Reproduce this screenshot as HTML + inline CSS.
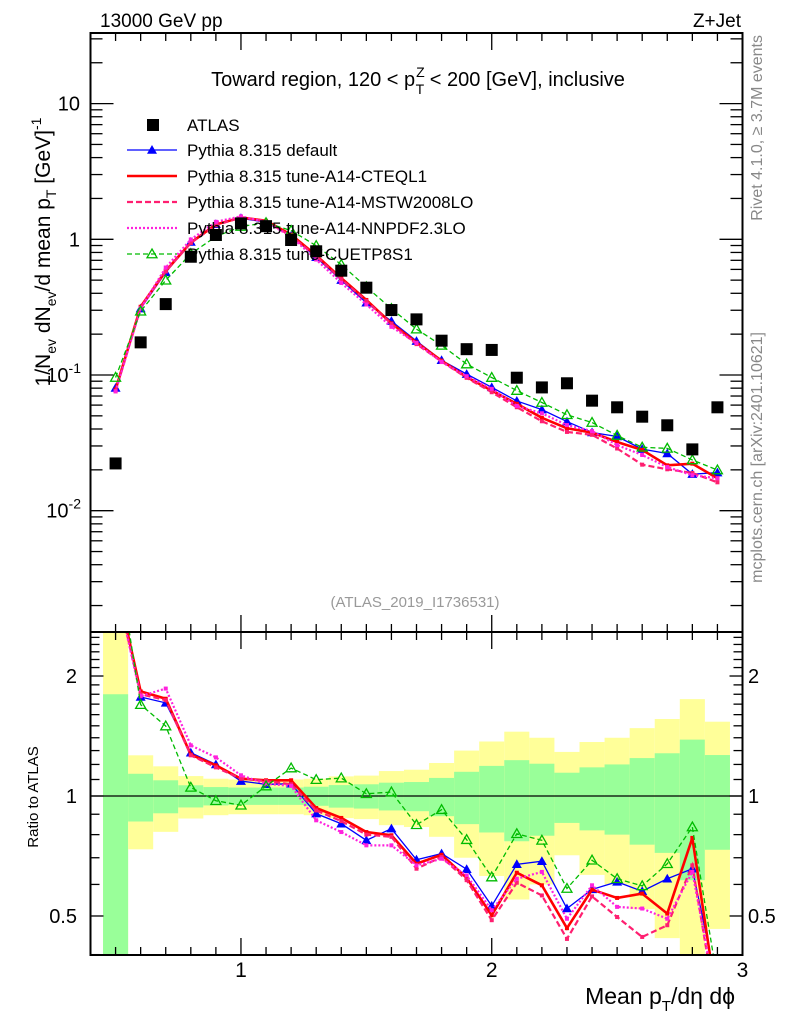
<!DOCTYPE html>
<html><head><meta charset="utf-8"><style>
html,body{margin:0;padding:0;background:#fff;width:786px;height:1024px;overflow:hidden;}
svg{display:block;font-family:"Liberation Sans",sans-serif;}
</style></head><body>
<svg id="chart" width="786" height="1024" viewBox="0 0 786 1024" xmlns="http://www.w3.org/2000/svg">
<defs>
<clipPath id="clipMain"><rect x="90.5" y="33" width="652" height="599"/></clipPath>
<clipPath id="clipRatio"><rect x="90.5" y="632" width="652" height="323"/></clipPath>
</defs>
<rect x="0" y="0" width="786" height="1024" fill="#fff"/>
<g id="bands" clip-path="url(#clipRatio)"></g>
<line x1="90.5" y1="796" x2="742.5" y2="796" stroke="#000" stroke-width="1.2"/>
<g id="mainMarks" clip-path="url(#clipMain)"></g>
<g id="ratioMarks" clip-path="url(#clipRatio)"></g>
<g id="axes"></g>
<rect x="90.5" y="33" width="652" height="599" fill="none" stroke="#000" stroke-width="2"/>
<rect x="90.5" y="632" width="652" height="323" fill="none" stroke="#000" stroke-width="2"/>

<text x="100" y="27" font-size="19">13000 GeV pp</text>
<text x="741" y="27" font-size="19" text-anchor="end">Z+Jet</text>
<text x="418" y="86" font-size="20" text-anchor="middle">Toward region, 120 &lt; p<tspan font-size="14" dx="1" dy="-9">Z</tspan><tspan font-size="14" dx="-9" dy="17">T</tspan><tspan dy="-8"> &lt; 200 [GeV], inclusive</tspan></text>
<text transform="translate(50,252) rotate(-90)" font-size="21" text-anchor="middle">1/N<tspan font-size="14" dy="6">ev</tspan><tspan dy="-6"> dN</tspan><tspan font-size="14" dy="6">ev</tspan><tspan dy="-6">/d mean p</tspan><tspan font-size="14" dy="6">T</tspan><tspan dy="-6"> [GeV]</tspan><tspan font-size="14" dy="-9">-1</tspan></text>
<text transform="translate(38,797) rotate(-90)" font-size="15" text-anchor="middle">Ratio to ATLAS</text>
<text transform="translate(762,35) rotate(-90)" font-size="16" fill="#888" text-anchor="end">Rivet 4.1.0, ≥ 3.7M events</text>
<text transform="translate(762,332) rotate(-90)" font-size="16" fill="#888" text-anchor="end">mcplots.cern.ch [arXiv:2401.10621]</text>
<text x="415" y="607" font-size="15" fill="#999" text-anchor="middle">(ATLAS_2019_I1736531)</text>
<text x="735" y="1004" font-size="23" text-anchor="end">Mean p<tspan font-size="15" dy="7">T</tspan><tspan dy="-7">/dη dϕ</tspan></text>
<g id="legend"></g>

<script>
// ---- data ----
var binCenters = [0.5,0.6,0.7,0.8,0.9,1.0,1.1,1.2,1.3,1.4,1.5,1.6,1.7,1.8,1.9,2.0,2.1,2.2,2.3,2.4,2.5,2.6,2.7,2.8,2.9];
var atlasValues = [0.0223,0.174,0.333,0.744,1.076,1.31,1.25,0.988,0.816,0.587,0.44,0.301,0.257,0.179,0.155,0.153,0.0955,0.081,0.0869,0.0647,0.0578,0.0493,0.0426,0.0283,0.0578];
var statErr = [0.80,0.137,0.095,0.064,0.053,0.05,0.05,0.05,0.055,0.065,0.07,0.08,0.084,0.11,0.15,0.19,0.23,0.205,0.144,0.18,0.20,0.245,0.28,0.385,0.267];
var totalErr = [1.7,0.265,0.187,0.122,0.105,0.10,0.10,0.10,0.105,0.12,0.125,0.155,0.164,0.21,0.30,0.37,0.45,0.40,0.29,0.366,0.40,0.48,0.56,0.75,0.536];
var ratioDefault = [3.6,1.772,1.712,1.284,1.20,1.09,1.07,1.073,0.903,0.852,0.774,0.828,0.692,0.717,0.655,0.530,0.674,0.686,0.522,0.583,0.609,0.577,0.620,0.657,0.33];
var ratioCTEQL1 = [3.5,1.83,1.754,1.27,1.194,1.105,1.095,1.095,0.933,0.881,0.812,0.797,0.676,0.712,0.623,0.502,0.642,0.597,0.466,0.582,0.555,0.569,0.507,0.785,0.30];
var ratioMSTW = [3.4,1.80,1.74,1.265,1.18,1.105,1.09,1.07,0.92,0.865,0.80,0.79,0.657,0.703,0.615,0.488,0.606,0.563,0.438,0.56,0.497,0.443,0.474,0.67,0.28];
var ratioNNPDF = [3.4,1.78,1.86,1.34,1.25,1.127,1.073,1.06,0.869,0.812,0.752,0.752,0.67,0.696,0.632,0.517,0.62,0.645,0.492,0.597,0.527,0.522,0.492,0.645,0.30];
var ratioCUETP = [4.3,1.695,1.498,1.051,0.973,0.948,1.059,1.175,1.099,1.109,1.013,1.023,0.847,0.924,0.777,0.626,0.804,0.774,0.586,0.69,0.62,0.595,0.676,0.836,0.345];
var mainTickLabels = ["10","1","10","10"];
var mainTickExps = ["","","-1","-2"];
var mainTickValues = [10,1,0.1,0.01];
var ratioTickValues = [2,1,0.5];
var ratioTickLabels = ["2","1","0.5"];
var xTickValues = [1,2,3];
var xTickLabels = ["1","2","3"];
var legendLabels = ["ATLAS","Pythia 8.315 default","Pythia 8.315 tune-A14-CTEQL1","Pythia 8.315 tune-A14-MSTW2008LO","Pythia 8.315 tune-A14-NNPDF2.3LO","Pythia 8.315 tune-CUETP8S1"];

// ---- scales ----
var XL=90.5, XR=742.5;
function X(v){return XL+(v-0.4)*(XR-XL)/2.6;}
function Y(v){return 239.3-Math.log10(v)*135.7;}
function R(v){return 796-Math.log10(Math.max(v,1e-3))*398.6;}
var NS="http://www.w3.org/2000/svg";
function mk(tag,attrs,parent){var e=document.createElementNS(NS,tag);for(var k in attrs)e.setAttribute(k,attrs[k]);parent.appendChild(e);return e;}

// ---- bands ----
var gb=document.getElementById('bands');
binCenters.forEach(function(c,i){
  var x0=X(c-0.05),x1=X(c+0.05);
  var y1=R(1+totalErr[i]), y2=R(Math.max(1-totalErr[i],1e-3));
  var yb=mk('rect',{x:x0,y:y1,width:x1-x0,height:y2-y1,fill:'#ffff99'},gb);
  
  
  var g1=R(1+statErr[i]), g2=R(Math.max(1-statErr[i],1e-3));
  var gr=mk('rect',{x:x0,y:g1,width:x1-x0,height:g2-g1,fill:'#99ff99'},gb);
  
  
});

// ---- series ----
var series=[
 {name:'default',r:ratioDefault,color:'#0000ff',w:1.3,dash:'',marker:'tri'},
 {name:'cteql1',r:ratioCTEQL1,color:'#ff0000',w:2.6,dash:'',marker:'sq'},
 {name:'mstw2008lo',r:ratioMSTW,color:'#ff1f70',w:2.2,dash:'6,3',marker:'sq'},
 {name:'nnpdf23lo',r:ratioNNPDF,color:'#ff22dd',w:2.2,dash:'2,2',marker:'sq'},
 {name:'cuetp8s1',r:ratioCUETP,color:'#00bb00',w:1.3,dash:'5,3',marker:'otri'}
];
function marker(type,x,y,color,parent,s){
  var e;
  if(type==='tri'){e=mk('path',{d:'M'+x+' '+(y-s)+'L'+(x+s)+' '+(y+s*0.75)+'L'+(x-s)+' '+(y+s*0.75)+'Z',fill:color},parent);}
  else if(type==='otri'){e=mk('path',{d:'M'+x+' '+(y-s)+'L'+(x+s)+' '+(y+s*0.75)+'L'+(x-s)+' '+(y+s*0.75)+'Z',fill:'none',stroke:color,'stroke-width':1.3},parent);}
  else if(type==='sq'){e=mk('rect',{x:x-2,y:y-2,width:4,height:4,fill:color},parent);}
  else {e=mk('rect',{x:x-s,y:y-s,width:2*s,height:2*s,fill:color},parent);}
  return e;
}
var gm=document.getElementById('mainMarks'), gr2=document.getElementById('ratioMarks');
series.forEach(function(s){
  var ptsM=[],ptsR=[];
  binCenters.forEach(function(c,i){ptsM.push(X(c)+','+Y(atlasValues[i]*s.r[i]));ptsR.push(X(c)+','+R(s.r[i]));});
  var lm=mk('polyline',{points:ptsM.join(' '),fill:'none',stroke:s.color,'stroke-width':s.w,'stroke-dasharray':s.dash},gm);
  
  
  var lr=mk('polyline',{points:ptsR.join(' '),fill:'none',stroke:s.color,'stroke-width':s.w,'stroke-dasharray':s.dash},gr2);
  
  
  binCenters.forEach(function(c,i){
    var m1=marker(s.marker,X(c),Y(atlasValues[i]*s.r[i]),s.color,gm,5);
    
    
    var m2=marker(s.marker,X(c),R(s.r[i]),s.color,gr2,5);
    
    
  });
});
binCenters.forEach(function(c,i){
  var a=mk('rect',{x:X(c)-6,y:Y(atlasValues[i])-6,width:12,height:12,fill:'#000'},gm);
  
  
});

// ---- axes ----
var ga=document.getElementById('axes');
function ln(x1,y1,x2,y2,p){return mk('line',{x1:x1,y1:y1,x2:x2,y2:y2,stroke:'#000','stroke-width':1.3},p);}
for(var k=5;k<=29;k++){
  var v=k/10, x=X(v), maj=(k%10===0), L=maj?17:8;
  ln(x,33,x,33+L,ga); ln(x,632,x,632-L,ga); ln(x,632,x,632+L,ga); ln(x,955,x,955-L,ga);
}
xTickValues.forEach(function(v,i){
  var t=mk('text',{x:X(v),y:977,'font-size':21,'text-anchor':'middle'},ga);t.textContent=xTickLabels[i];
  
  
});
for(var d=-3;d<=1;d++){for(var m=1;m<=9;m++){var v=m*Math.pow(10,d),y=Y(v);if(y<33||y>632)continue;var L=(m===1)?23:12;ln(XL,y,XL+L,y,ga);ln(XR,y,XR-L,y,ga);}}
mainTickValues.forEach(function(v,i){
  var t=mk('text',{x:80,y:Y(v)+7,'font-size':20,'text-anchor':'end'},ga);
  
  
  t.textContent=mainTickLabels[i];
  if(mainTickExps[i]){t.setAttribute('x',81);var sp=mk('tspan',{'font-size':14,dy:-9},t);sp.textContent=mainTickExps[i];}
});
for(var k=4;k<=25;k++){var v=k/10,y=R(v);if(y<632||y>955)continue;var maj=(k===5||k===10||k===20);var L=maj?13:9;ln(XL,y,XL+L,y,ga);ln(XR,y,XR-L,y,ga);}
ratioTickValues.forEach(function(v,i){
  var t1=mk('text',{x:77,y:R(v)+7,'font-size':20,'text-anchor':'end'},ga);t1.textContent=ratioTickLabels[i];
  
  
  var t2=mk('text',{x:748,y:R(v)+7,'font-size':20,'text-anchor':'start'},ga);t2.textContent=ratioTickLabels[i];
  
  
});

// ---- legend ----
var gl=document.getElementById('legend');
var legY=[125,150,176,202,228,254];
var legStyles=[null].concat(series);
legendLabels.forEach(function(lab,i){
  var y=legY[i];
  var g=mk('g',{},gl);
  
  
  if(i===0){mk('rect',{x:147,y:y-6,width:12,height:12,fill:'#000'},g);}
  else{var s=legStyles[i];mk('line',{x1:127,y1:y,x2:177,y2:y,stroke:s.color,'stroke-width':s.w,'stroke-dasharray':s.dash},g);
    if(s.marker==='tri'||s.marker==='otri')marker(s.marker,152,y,s.color,g,5);}
  var t=mk('text',{x:187,y:y+6,'font-size':17},g);t.textContent=lab;
});
</script>
</svg>
</body></html>
